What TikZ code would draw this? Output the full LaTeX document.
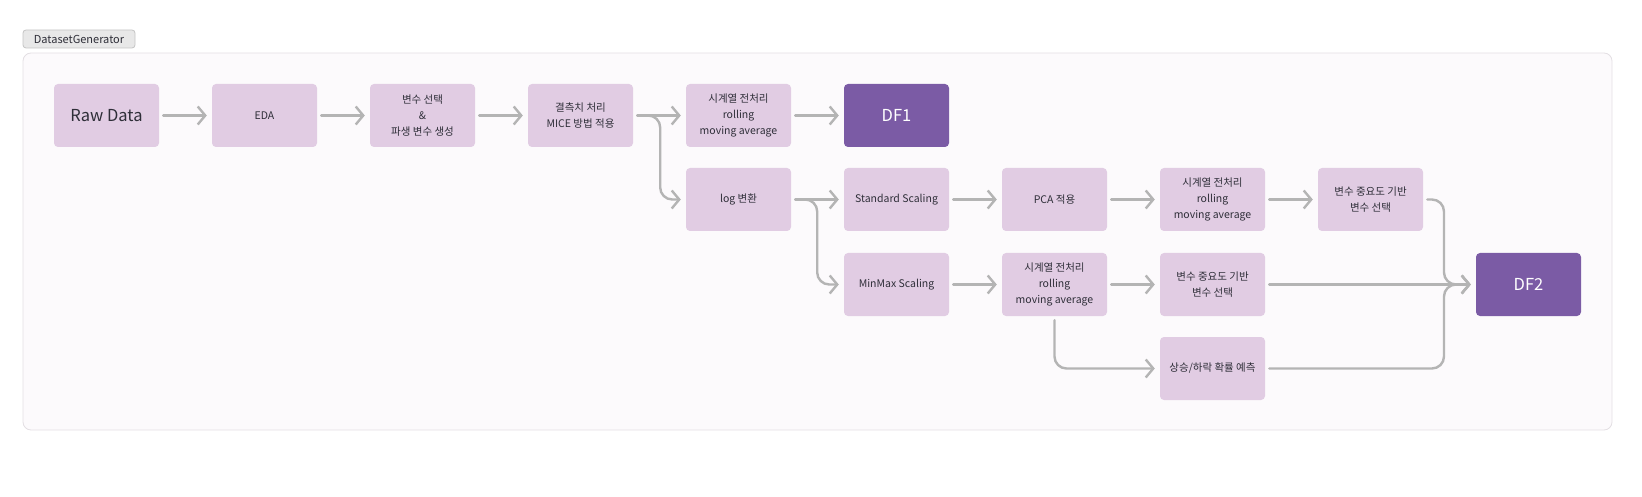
\documentclass[tikz,border=0pt]{standalone}
\usepackage{fontspec}
\setmainfont{Noto Sans CJK KR}
\usepackage{tikz}
\usetikzlibrary{positioning, arrows.meta}
\definecolor{boxfill}{HTML}{E1CCE3}
\definecolor{dffill}{HTML}{7B5BA5}
\definecolor{linegray}{HTML}{B4B4B4}
\definecolor{panel}{HTML}{FCFAFC}
\definecolor{panelline}{HTML}{E3DFE3}
\definecolor{tagfill}{HTML}{E8E8E8}
\definecolor{tagline}{HTML}{C4C4C4}
\definecolor{txt}{HTML}{2E2E38}

\begin{document}
\begin{tikzpicture}[x=1pt, y=-1pt,
  box/.style={rectangle, rounded corners=4pt, fill=boxfill, minimum width=105pt,
    minimum height=63pt, inner sep=0pt, align=center, text=txt,
    font=\fontsize{10.5}{16}\selectfont},
  dfbox/.style={box, fill=dffill, text=white, font=\fontsize{16.5}{18}\selectfont},
  flow/.style={draw=linegray, line width=2.4pt, line cap=round,
    -{Straight Barb[length=7.5pt,width=18pt]}, shorten <=4pt, shorten >=5pt,
    rounded corners=12pt}]
\useasboundingbox (0,0) rectangle (1642,497);

% Panel
\draw[panelline, line width=0.8pt, fill=panel, rounded corners=8pt] (23,53) rectangle (1612,430);
\node[draw=tagline, line width=0.8pt, fill=tagfill, rounded corners=3pt, minimum width=112pt,
  minimum height=18pt, inner sep=0pt, text=txt, font=\fontsize{11}{12}\selectfont]
  (gen) at (79,39) {DatasetGenerator};

% Row 1
\node[box, font=\fontsize{16.5}{18}\selectfont] (raw) at (106.5,115.5) {Raw Data};
\node[box] (eda) at (264.5,115.5) {EDA};
\node[box] (var) at (422.5,115.5) {변수 선택\\\&\\파생 변수 생성};
\node[box] (mice) at (580.5,115.5) {결측치 처리\\MICE 방법 적용};
\node[box] (ts1) at (738.5,115.5) {시계열 전처리\\rolling\\moving average};
\node[dfbox] (df1) at (896.5,115.5) {DF1};

% Row 2
\node[box] (logt) at (738.5,199.5) {log 변환};
\node[box] (std) at (896.5,199.5) {Standard Scaling};
\node[box] (pca) at (1054.5,199.5) {PCA 적용};
\node[box] (ts2) at (1212.5,199.5) {시계열 전처리\\rolling\\moving average};
\node[box] (imp1) at (1370.5,199.5) {변수 중요도 기반\\변수 선택};

% Row 3
\node[box] (minmax) at (896.5,284.5) {MinMax Scaling};
\node[box] (ts3) at (1054.5,284.5) {시계열 전처리\\rolling\\moving average};
\node[box] (imp2) at (1212.5,284.5) {변수 중요도 기반\\변수 선택};
\node[dfbox] (df2) at (1528.5,284.5) {DF2};

% Row 4
\node[box] (updown) at (1212.5,368.5) {상승/하락 확률 예측};

\coordinate (merge) at (1444,284.5);

% Arrows
\draw[flow] (raw.east) -- (eda.west);
\draw[flow] (eda.east) -- (var.west);
\draw[flow] (var.east) -- (mice.west);
\draw[flow] (mice.east) -- (ts1.west);
\draw[flow] (ts1.east) -- (df1.west);
\draw[flow] (mice.east) -- ++(27,0) |- (logt.west);
\draw[flow] (logt.east) -- (std.west);
\draw[flow] (logt.east) -- ++(26,0) |- (minmax.west);
\draw[flow] (std.east) -- (pca.west);
\draw[flow] (pca.east) -- (ts2.west);
\draw[flow] (ts2.east) -- (imp1.west);
\draw[flow] (minmax.east) -- (ts3.west);
\draw[flow] (ts3.east) -- (imp2.west);
\draw[flow] (ts3.south) |- (updown.west);
\draw[flow] (imp2.east) -- (df2.west);
\draw[flow] (imp1.east) -| (merge) -- (df2.west);
\draw[flow] (updown.east) -| (merge) -- (df2.west);
\end{tikzpicture}
\end{document}
